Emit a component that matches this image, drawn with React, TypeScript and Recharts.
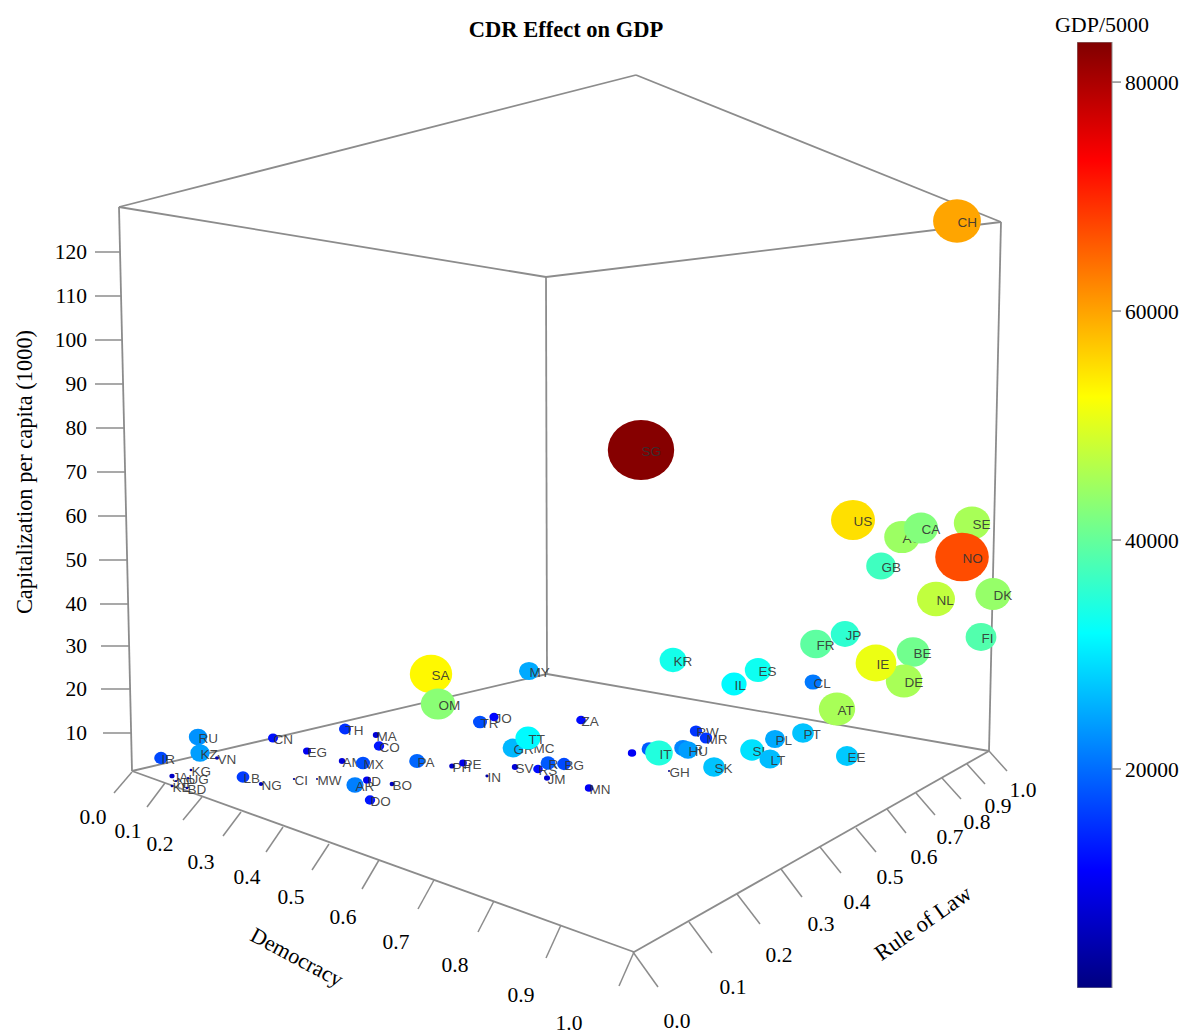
import React from "react";
import {
  ScatterChart, Scatter, XAxis, YAxis, ReferenceLine, ComposedChart, Bar,
} from "recharts";

const WIDTH = 1185;
const HEIGHT = 1035;
const SERIF = "'Liberation Serif', 'Times New Roman', serif";
const SANS = "'Liberation Sans', Arial, sans-serif";
const GRID = "#8c8c8c";

// Countries, back to front. planeX / planeY: where each country falls on the picture plane after the 3D view.
const codes = [
  "CH","SG","US","AU","CA","SE","NO","GB","NL","DK","FI","FR","JP","BE","DE","IE","CL","AT","ES","IL","KR","MY","SA","OM",
  "RU","KZ","IR","VN","CN","TH","MA","CO","EG","AM","MX","PA","LB","NG","CI","MW","KG","JA","NP","UG","KE","BD","AR","ID","BO","DO",
  "TR","JO","ZA","MC","GR","TT","PH","PE","IN","SV","RS","RO","BG","JM","MN","BA","CY","IT","HR","HU","GH","SK","RW","MR","SI","LT","PL","PT","EE",
];
const planeX = [
  957,641,853,902,921,972,962,881,936,993,981,816,845,913,904,876,813,837,758,734,673,529,431,438,
  198,200,161,217,273,345,376,379,307,342,363,417,243,261,294,317,191,172,176,188,172,187,355,367,392,370,
  480,494,581,533,513,528,452,463,487,515,538,548,564,547,589,632,649,659,683,688,669,714,696,706,752,770,775,803,847,
];
const planeY = [
  221,450,520,537,528,523,557,566,599,594,637,644,634,652,681,663,682,709,670,684,660,671,674,704,
  737,753,758,758,738,729,735,746,751,761,763,761,777,784,779,779,770,776,781,778,786,788,785,780,784,800,
  722,717,720,747,748,738,766,763,776,767,769,763,764,778,788,753,749,753,748,750,771,767,731,738,750,759,739,733,756,
];
const gdp = [
  59800,83000,55000,44500,42500,45500,67000,37000,47500,44000,38500,39500,35600,41000,45500,51000,21000,45500,33000,31500,33500,25000,53000,43000,
  23000,24000,17000,5000,12500,15000,8000,13000,10000,8000,17500,19500,16000,5500,3000,2500,3500,6500,2500,3000,3500,3500,21500,10000,6000,13000,
  17500,11500,12000,4000,26000,31500,7000,9500,4000,8000,12000,18500,17000,7500,10500,10500,18500,34500,22000,24000,2500,27000,15500,15500,29500,26500,25000,27000,27500,
];
const unlabeled = ["BA", "CY"];

// Wireframe of the box, as picture-plane corners
const cornerLeftBottom = [132, 771];
const cornerFrontBottom = [634, 952];
const cornerRightBottom = [989, 751];
const cornerBackBottom = [547, 674];
const cornerLeftTop = [119, 207];
const cornerRightTop = [1001, 222];
const cornerBackTop = [546, 277];
const cornerFarTop = [636, 75];
const boxEdges = [
  [cornerLeftBottom, cornerFrontBottom], [cornerFrontBottom, cornerRightBottom],
  [cornerRightBottom, cornerBackBottom], [cornerBackBottom, cornerLeftBottom],
  [cornerLeftBottom, cornerLeftTop], [cornerRightBottom, cornerRightTop], [cornerBackBottom, cornerBackTop],
  [cornerLeftTop, cornerBackTop], [cornerBackTop, cornerRightTop], [cornerRightTop, cornerFarTop], [cornerFarTop, cornerLeftTop],
];

// Capitalization axis
const capTicks = ["120","110","100","90","80","70","60","50","40","30","20","10"];
const capTickY = [252,296,340,384,428,472,516,560,604,646,689,733];
const capTickStart = [95,95,95,95,96,97,98,99,100,101,101,103];
const capTickEnd = [120,121,122,123,124,125,126,127,128,129,130,131];

// Democracy axis
const shareTicks = ["0.0","0.1","0.2","0.3","0.4","0.5","0.6","0.7","0.8","0.9","1.0"];
const demBase = [[132,772],[165,783],[202,797],[241,812],[283,827],[329,844],[379,860],[434,880],[494,901],[561,925],[634,952]];
const demEnd = [[114,793],[147,807],[183,820],[223,836],[266,852],[312,870],[362,889],[418,909],[478,932],[546,958],[619,986]];
const demLabel = [[93,817],[128,831],[160,844],[201,862],[247,877],[291,897],[343,917],[396,942],[455,965],[521,995],[569,1023]];

// Rule of Law axis
const ruleBase = [[633,952],[689,922],[737,894],[781,869],[820,847],[856,828],[887,809],[916,793],[942,778],[967,764],[989,751]];
const ruleEnd = [[658,987],[712,953],[760,924],[802,897],[841,873],[876,852],[906,833],[935,815],[961,799],[985,784],[1007,771]];
const ruleLabel = [[677,1021],[733,987],[779,955],[821,924],[857,902],[890,877],[924,857],[950,837],[977,822],[998,806],[1023,790]];

// Colour bar
const colorTicks = [20000, 40000, 60000, 80000];
const colorDomain = [870, 83500];
const colorBarRows = [{ name: "GDP/5000", top: colorDomain[1] }];

function jet(t: number) {
  const c = (v: number) => Math.round(255 * Math.max(0, Math.min(1, v)));
  const r = 1.5 - Math.abs(4 * t - 3);
  const g = 1.5 - Math.abs(4 * t - 2);
  const b = 1.5 - Math.abs(4 * t - 1);
  return `rgb(${c(r)},${c(g)},${c(b)})`;
}
const colorOf = (v: number) => jet((v - colorDomain[0]) / (colorDomain[1] - colorDomain[0]));

const countryRows = codes.map((code, i) => ({
  code, x: planeX[i], y: planeY[i], gdp: gdp[i],
}));

type TextRow = { x: number; y: number; text: string; size: number; anchor: string; rotate: number; weight?: string };
const textRows: TextRow[] = [
  { x: 566, y: 29, text: "CDR Effect on GDP", size: 22.5, anchor: "middle", rotate: 0, weight: "bold" },
  { x: 1102, y: 24, text: "GDP/5000", size: 22, anchor: "middle", rotate: 0 },
  { x: 24, y: 472, text: "Capitalization per capita (1000)", size: 22.4, anchor: "middle", rotate: -90 },
  { x: 297, y: 957, text: "Democracy", size: 22, anchor: "middle", rotate: 28 },
  { x: 923, y: 923, text: "Rule of Law", size: 22.5, anchor: "middle", rotate: -35 },
  ...capTicks.map((t, i) => ({ x: 87, y: capTickY[i], text: t, size: 21.5, anchor: "end", rotate: 0 })),
  ...shareTicks.map((t, i) => ({ x: demLabel[i][0], y: demLabel[i][1], text: t, size: 21.5, anchor: "middle", rotate: 0 })),
  ...shareTicks.map((t, i) => ({ x: ruleLabel[i][0], y: ruleLabel[i][1], text: t, size: 21.5, anchor: "middle", rotate: 0 })),
];

const Bubble = (props: any) => {
  const { cx, cy, payload } = props;
  const r = payload.gdp / 2650;
  return (
    <g>
      <ellipse cx={cx} cy={cy} rx={r * 1.06} ry={r * 0.96} fill={colorOf(payload.gdp)} />
      {!unlabeled.includes(payload.code) && (
        <text x={cx + 0.5} y={cy + 1.5} fontFamily={SANS} fontSize={13.5} fill="#333" fillOpacity={0.9} dominantBaseline="central">
          {payload.code}
        </text>
      )}
    </g>
  );
};

const PlainText = (props: any) => {
  const { cx, cy, payload } = props;
  return (
    <text
      x={cx} y={cy} fontFamily={SERIF} fontSize={payload.size} fontWeight={payload.weight}
      textAnchor={payload.anchor} dominantBaseline="central" fill="#000"
      transform={payload.rotate ? `rotate(${payload.rotate} ${cx} ${cy})` : undefined}
    >
      {payload.text}
    </text>
  );
};

const seg = (a: number[], b: number[], key: string, w: number) => (
  <ReferenceLine
    key={key} ifOverflow="visible" stroke={GRID} strokeWidth={w}
    segment={[{ x: a[0], y: a[1] }, { x: b[0], y: b[1] }]}
  />
);

export default function App() {
  return (
    <div style={{ position: "absolute", left: 0, top: 0, width: WIDTH, height: HEIGHT, background: "#fff", overflow: "hidden" }}>
      <div style={{ position: "absolute", left: 0, top: 0 }}>
        <ScatterChart width={WIDTH} height={HEIGHT} margin={{ top: 0, right: 0, bottom: 0, left: 0 }}>
          <XAxis type="number" dataKey="x" domain={[0, WIDTH]} hide />
          <YAxis type="number" dataKey="y" domain={[0, HEIGHT]} reversed hide />
          {boxEdges.map((e, i) => seg(e[0], e[1], `box${i}`, 1.8))}
          {capTickY.map((y, i) => seg([capTickStart[i], y], [capTickEnd[i], y], `cap${i}`, 1.5))}
          {demBase.map((b, i) => seg(b, demEnd[i], `dem${i}`, 1.5))}
          {ruleBase.map((b, i) => seg(b, ruleEnd[i], `rule${i}`, 1.5))}
          <Scatter data={countryRows} shape={Bubble} isAnimationActive={false} />
          <Scatter data={textRows} shape={PlainText} isAnimationActive={false} />
        </ScatterChart>
      </div>
      <div style={{ position: "absolute", left: 1077, top: 0 }}>
        <ComposedChart
          width={108} height={HEIGHT} data={colorBarRows} barCategoryGap={0}
          margin={{ top: 42, right: 0, bottom: 47, left: 0 }}
        >
          <defs>
            <linearGradient id="jetBar" x1="0" y1="0" x2="0" y2="1">
              <stop offset="0" stopColor={jet(1)} />
              <stop offset="0.125" stopColor={jet(0.875)} />
              <stop offset="0.375" stopColor={jet(0.625)} />
              <stop offset="0.625" stopColor={jet(0.375)} />
              <stop offset="0.875" stopColor={jet(0.125)} />
              <stop offset="1" stopColor={jet(0)} />
            </linearGradient>
          </defs>
          <XAxis type="category" dataKey="name" hide />
          <YAxis
            type="number" orientation="right" width={73} domain={colorDomain} ticks={colorTicks}
            allowDataOverflow axisLine={false} tickLine={{ stroke: GRID, strokeWidth: 1.5 }} tickSize={9} tickMargin={4}
            tick={{ fontFamily: SERIF, fontSize: 21.5, fill: "#000" }} interval={0}
          />
          <Bar dataKey="top" fill="url(#jetBar)" stroke={GRID} strokeWidth={1} isAnimationActive={false} />
        </ComposedChart>
      </div>
    </div>
  );
}
